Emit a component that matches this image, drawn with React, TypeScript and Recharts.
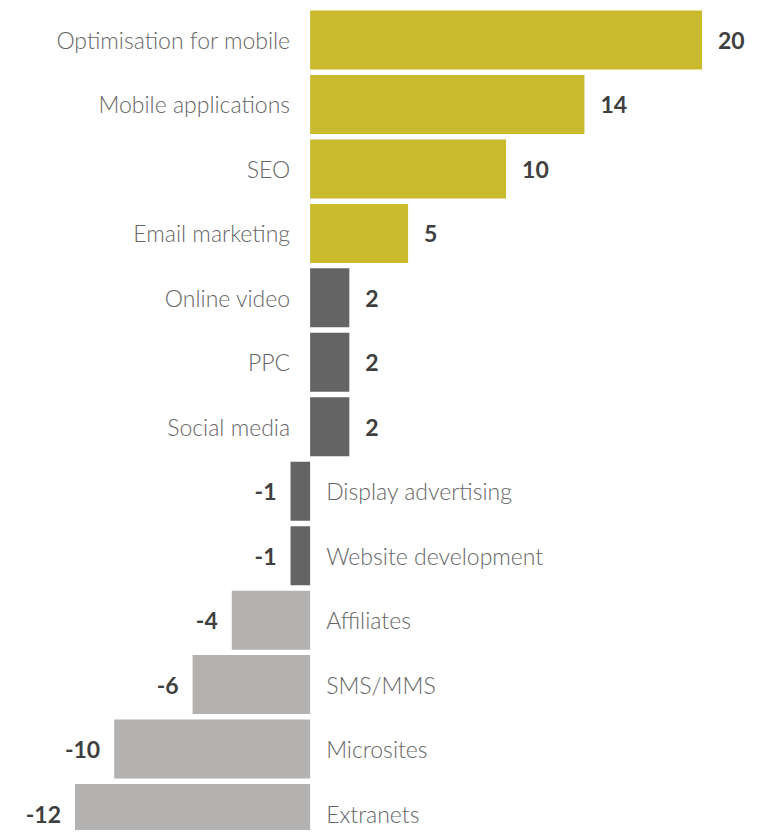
import { BarChart, Bar, XAxis, YAxis, Cell, LabelList } from "recharts";

const categories = [
  "Optimisation for mobile",
  "Mobile applications",
  "SEO",
  "Email marketing",
  "Online video",
  "PPC",
  "Social media",
  "Display advertising",
  "Website development",
  "Affiliates",
  "SMS/MMS",
  "Microsites",
  "Extranets",
];

const netChange = [20, 14, 10, 5, 2, 2, 2, -1, -1, -4, -6, -10, -12];

const data = categories.map((name, i) => ({ name, value: netChange[i] }));

const YELLOW = "#c9ba2e";
const DARK = "#646464";
const LIGHT = "#b3b2b0";

const barColor = (v: number) => (v >= 5 ? YELLOW : v >= -1 ? DARK : LIGHT);

const FONT = "Lato, 'Open Sans', sans-serif";

const BarLabels = (props: any) => {
  const { x, y, width, height, index } = props;
  const v = netChange[index];
  const a = Number(x);
  const b = Number(x) + Number(width);
  const left = Math.min(a, b);
  const right = Math.max(a, b);
  const cy = Number(y) + Number(height) / 2;
  const name = categories[index];
  const nameProps = { fontFamily: FONT, fontSize: 23, fontWeight: 300, fill: "#666" };
  const valProps = { fontFamily: FONT, fontSize: 23, fontWeight: 700, fill: "#3f3f3f" };
  if (v >= 0) {
    return (
      <g>
        <text x={left - 20} y={cy} textAnchor="end" dominantBaseline="central" {...nameProps}>{name}</text>
        <text x={right + 16} y={cy} textAnchor="start" dominantBaseline="central" {...valProps}>{v}</text>
      </g>
    );
  }
  return (
    <g>
      <text x={right + 16} y={cy} textAnchor="start" dominantBaseline="central" {...nameProps}>{name}</text>
      <text x={left - 14} y={cy} textAnchor="end" dominantBaseline="central" {...valProps}>{v}</text>
    </g>
  );
};

export default function App() {
  return (
    <div style={{ margin: -8, width: 767, height: 838, overflow: "hidden", background: "#fff" }}>
      <BarChart
        width={767}
        height={846}
        data={data}
        layout="vertical"
        margin={{ top: 8, right: 65, bottom: 0, left: 75 }}
        barCategoryGap={2.5}
      >
        <XAxis type="number" domain={[-12, 20]} hide />
        <YAxis type="category" dataKey="name" hide />
        <Bar dataKey="value" isAnimationActive={false}>
          {data.map((d, i) => (
            <Cell key={i} fill={barColor(d.value)} />
          ))}
          <LabelList dataKey="value" content={BarLabels} />
        </Bar>
      </BarChart>
    </div>
  );
}
